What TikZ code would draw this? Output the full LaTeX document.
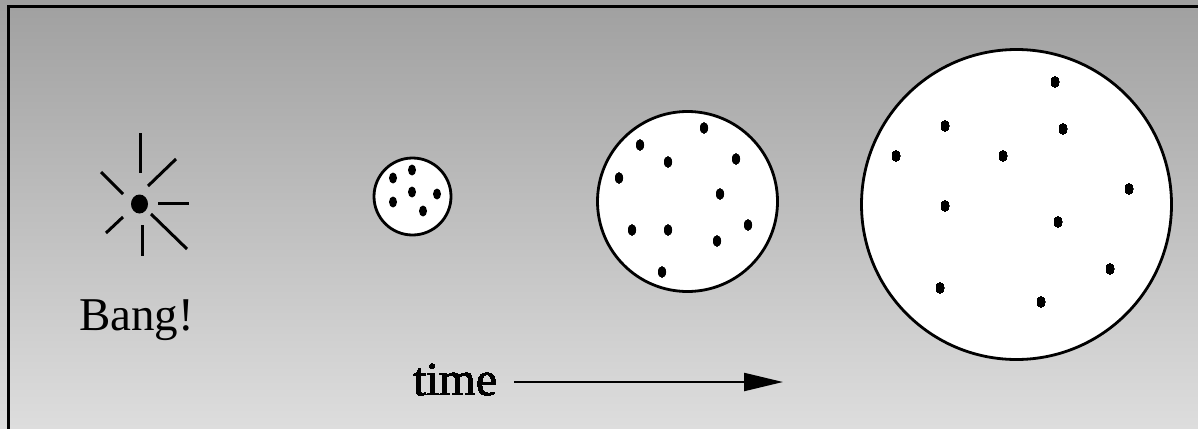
\documentclass[tikz,border=0pt]{standalone}
\usepackage{fontspec}
\setmainfont{Liberation Serif}
\usetikzlibrary{arrows.meta}
\definecolor{bgtop}{RGB}{160,160,160}
\definecolor{bgbottom}{RGB}{221,221,221}
\tikzset{
  universe/.style={draw, shape=circle, fill=white, line width=1.4pt, inner sep=0pt},
  ray/.style={line width=1.5pt},
  label/.style={inner sep=0pt, font=\fontsize{23.5}{28}\selectfont}
}
\newcommand{\galaxy}[2]{\fill (#1,#2) ellipse (4 and 5.5);}
\begin{document}
\begin{tikzpicture}[x=0.5pt, y=-0.5pt]
\path[use as bounding box] (0,0) rectangle (1198,428);
\clip (0,0) rectangle (1198,428);
\shade[top color=bgtop, bottom color=bgbottom] (0,0) rectangle (1198,428);
\draw[line width=1.4pt] (8.7,440) |- (1210,6.4);
% the bang
\fill (139.5,204) ellipse (8.5 and 9.5);
\draw[ray] (140,133) -- (140,173);
\draw[ray] (148,186) -- (176,159);
\draw[ray] (158,203) -- (189,203);
\draw[ray] (151,214) -- (187,249);
\draw[ray] (142,225) -- (142,256);
\draw[ray] (123,217) -- (106,233);
\draw[ray] (101,172) -- (123,194);
\node (bang) [label, anchor=base] at (136.5,330) {Bang!};
% the universe growing
\node (small) [universe, minimum size=38.5pt] at (412.5,196.5) {};
\node (medium) [universe, minimum size=90pt] at (687.5,201.5) {};
\node (large) [universe, minimum size=155pt] at (1016.5,204.5) {};
\foreach \x/\y in {393/178, 412/170, 412/192, 393/202, 437/194, 423/211}
  \galaxy{\x}{\y}
\foreach \x/\y in {704/128, 640/145, 668/162, 736/159, 619/178, 720/194,
  632/230, 668/230, 748/225, 717/241, 662/272}
  \galaxy{\x}{\y}
\foreach \x/\y in {1055/82, 945/126, 1063/129, 896/156, 1003/156, 1129/189,
  945/206, 1058/222, 1110/269, 940/288, 1041/302}
  \galaxy{\x}{\y}
% time arrow
\node (time) [label, anchor=base west] at (413,395) {time};
\coordinate (tail) at (514,382);
\coordinate (tip) at (783,382);
\draw[-{Triangle[length=19.5pt, width=9pt]}, line width=1.1pt] (tail) -- (tip);
\end{tikzpicture}
\end{document}
